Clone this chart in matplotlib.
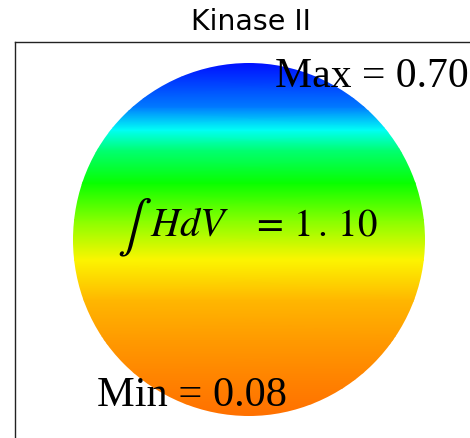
import numpy as np
import matplotlib
matplotlib.use('Agg')
from matplotlib import pyplot as plt
from matplotlib.patches import Circle

# mean curvature H sampled along the height of the cell (z = -1 bottom .. 1 top)
z_levels = [-1.0, -0.798, -0.571, -0.344, -0.116, 0.111, 0.321, 0.509, 0.622, 0.753, 1.0]
h_values = [0.08, 0.093, 0.108, 0.131, 0.175, 0.2625, 0.35, 0.4375, 0.525, 0.627, 0.70]
x_edges = [-1.0, 1.0]

h_max = 0.70
h_min = 0.08
h_integral = 1.10
title = 'Kinase II'

plt.rcParams['mathtext.fontset'] = 'stix'

fig = plt.figure(figsize=(4.7, 4.38), dpi=100)
ax = fig.add_axes([15 / 470, 1 - 440 / 438, 472 / 470, 398 / 438])

X, Z = np.meshgrid(x_edges, z_levels)
H = np.tile(np.array(h_values)[:, None], (1, len(x_edges)))
mesh = ax.pcolormesh(X, Z, H, shading='gouraud', cmap='hsv', vmin=0, vmax=1.05)
disk = Circle((0, 0), 1.0, transform=ax.transData, facecolor='none', edgecolor='none')
ax.add_patch(disk)
mesh.set_clip_path(disk)

ax.set_xlim(-1.327, 1.355)
ax.set_ylim(-1.139, 1.122)
ax.set_xticks([])
ax.set_yticks([])
for s in ax.spines.values():
    s.set_linewidth(1.0)
    s.set_color('#222222')

serif = 'Liberation Serif'
ax.text(0.15, 0.866, 'Max = %.2f' % h_max, family=serif, fontsize=30,
        ha='left', va='baseline', clip_on=False)
ax.text(-0.861, -0.946, 'Min = %.2f' % h_min, family=serif, fontsize=30.5,
        ha='left', va='baseline', clip_on=False)

# integral label: big integral sign, italic HdV, then the value
ax.text(-0.747, 0.065, r'$\int$', fontsize=37, ha='left', va='center')
ax.text(-0.56, 0.02, r'$HdV$', fontsize=29, ha='left', va='baseline')
val = ('%.2f' % h_integral).replace('.', r'\,.\,')
ax.text(0.014, 0.02, r'$=\,%s$' % val, fontsize=28, ha='left', va='baseline')

ax.set_title(title, fontsize=20.5, family='DejaVu Sans', pad=9)

fig.savefig('out.png', dpi=100)
